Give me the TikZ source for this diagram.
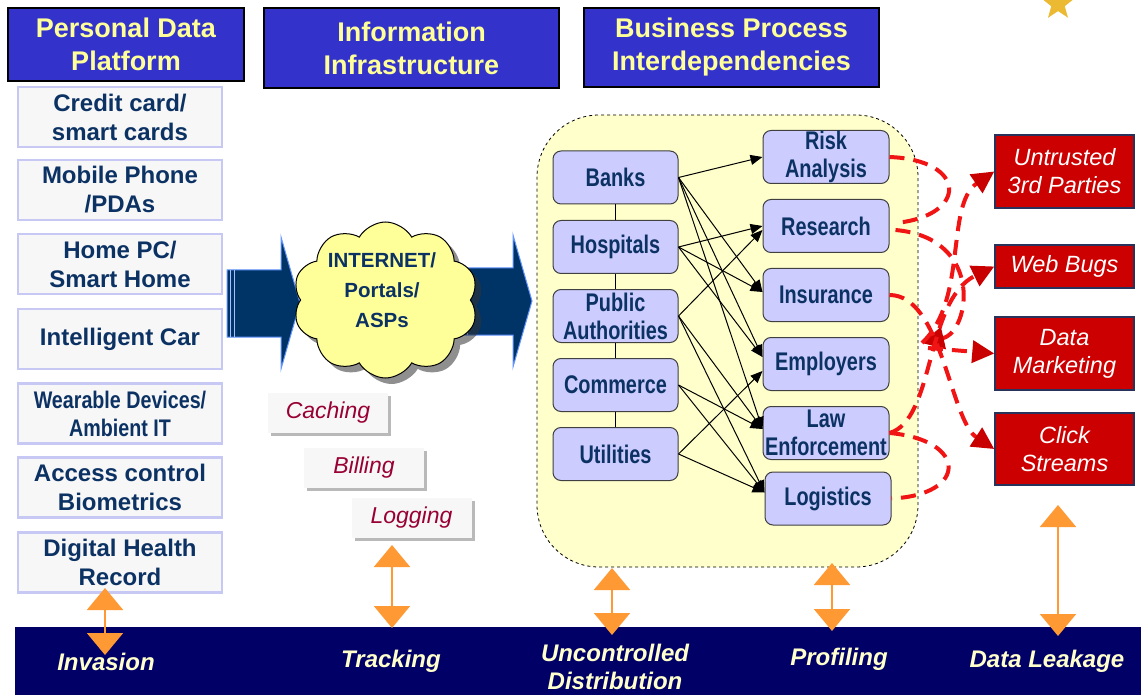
\documentclass[tikz,border=0pt]{standalone}
\usepackage{fontspec}
\setmainfont{Liberation Sans}
\newfontfamily\narrowfont{Liberation Sans}[FakeStretch=0.78]
\newfontfamily\narrowfontb{Liberation Sans}[FakeStretch=0.82]
\usetikzlibrary{shapes.symbols,shapes.geometric,arrows.meta,shadows,calc}

\definecolor{hdrblue}{RGB}{51,51,204}
\definecolor{hdrtext}{RGB}{255,255,153}
\definecolor{navytext}{RGB}{12,50,100}
\definecolor{boxgrey}{RGB}{247,247,247}
\definecolor{boxedge}{RGB}{200,200,245}
\definecolor{arrnavy}{RGB}{0,51,102}
\definecolor{arredge}{RGB}{100,150,255}
\definecolor{cloudyel}{RGB}{255,255,153}
\definecolor{contyel}{RGB}{255,255,204}
\definecolor{nodeblue}{RGB}{204,204,255}
\definecolor{redbox}{RGB}{204,0,0}
\definecolor{rededge}{RGB}{40,50,90}
\definecolor{redline}{RGB}{240,20,20}
\definecolor{darkred}{RGB}{200,0,0}
\definecolor{orangearr}{RGB}{255,153,51}
\definecolor{barnavy}{RGB}{0,0,102}
\definecolor{bartext}{RGB}{255,255,204}
\definecolor{wine}{RGB}{153,0,51}
\definecolor{starcol}{RGB}{235,185,50}
\definecolor{shadowgrey}{RGB}{185,185,185}

\begin{document}
\begin{tikzpicture}[x=1pt,y=-1pt,
  hdr/.style={fill=hdrblue, draw=black, line width=1.2pt, text=hdrtext,
    font=\fontsize{27}{33}\selectfont\bfseries, align=center, inner sep=0pt},
  devbox/.style={fill=boxgrey, draw=boxedge, line width=2.5pt, text=navytext,
    font=\fontsize{24}{29}\selectfont\bfseries, align=center,
    minimum width=204pt, minimum height=60pt, inner sep=0pt},
  proc/.style={fill=nodeblue, draw=black!75, line width=1pt, rounded corners=8pt,
    text=navytext, font=\narrowfont\bfseries\fontsize{25.5}{28}\selectfont,
    align=center, minimum width=125pt, minimum height=53pt, inner sep=0pt},
  threat/.style={fill=redbox, draw=rededge, line width=1.5pt, text=white,
    font=\fontsize{23.5}{28}\selectfont\itshape, align=center,
    minimum width=139pt, inner sep=0pt},
  trk/.style={fill=boxgrey, text=wine, font=\fontsize{23}{28}\selectfont\itshape,
    minimum width=120pt, minimum height=40pt, inner sep=0pt},
  trkshadow/.style={fill=shadowgrey},
  risklbl/.style={text=bartext, font=\fontsize{24}{28}\selectfont\bfseries\itshape,
    align=center, inner sep=0pt},
  flow/.style={draw=black, line width=1pt, -{Triangle[length=12pt,width=10pt]}},
  reddash/.style={draw=redline, line width=4pt, dash pattern=on 15pt off 9pt},
  redtip/.style={-{Triangle[length=22pt,width=22pt,color=darkred]}},
  dbl/.style={draw=orangearr, line width=2pt,
    {Triangle[length=22pt,width=36pt]}-{Triangle[length=22pt,width=36pt]}},
  bigarrow/.style={fill=arrnavy, draw=arredge, line width=1pt}
]
\useasboundingbox (0,0) rectangle (1141,695);
\fill[white] (0,0) rectangle (1141,695);

% decorative star (top right)
\node[star, star points=5, star point ratio=2.4, fill=starcol, minimum size=34pt, inner sep=0pt] (star) at (1058,4) {};

% headers
\node[hdr, minimum width=236pt, minimum height=73pt] (h1) at (126,44.5) {Personal Data\\Platform};
\node[hdr, minimum width=295pt, minimum height=80pt] (h2) at (411.5,48) {Information\\Infrastructure};
\node[hdr, minimum width=295pt, minimum height=79pt] (h3) at (731.5,47.5) {Business Process\\Interdependencies};

% personal devices
\node[devbox] (credit) at (120,117) {Credit card/\\smart cards};
\node[devbox] (mobile) at (120,190) {Mobile Phone\\/PDAs};
\node[devbox] (home) at (120,264) {Home PC/\\Smart Home};
\node[devbox] (car) at (120,339) {Intelligent Car};
\node[devbox, font=\narrowfontb\bfseries\fontsize{24}{28}\selectfont] (wear) at (120,413.5) {Wearable Devices/\\Ambient IT};
\node[devbox] (access) at (120,487.5) {Access control\\Biometrics};
\node[devbox] (health) at (120,562.5) {Digital Health\\Record};

% big arrows
\draw[bigarrow] (227,270) -- (281,270) -- (281,237) -- (300,303) -- (281,369) -- (281,337) -- (227,337) -- cycle;
\draw[arredge!60!white, line width=1pt] (230.5,270) -- (230.5,337) (234,270) -- (234,337);
\draw[bigarrow] (460,268) -- (513,268) -- (513,235) -- (532,301) -- (513,367) -- (513,335) -- (460,335) -- cycle;
\draw[arredge!60!white, line width=1pt] (463.5,268) -- (463.5,335) (467,268) -- (467,335);

% cloud
\node[cloud, cloud puffs=10, cloud puff arc=120, aspect=1.2, minimum width=185pt, minimum height=156pt,
  inner sep=0pt, fill=cloudyel, draw=black, line width=1pt,
  drop shadow={shadow xshift=6pt, shadow yshift=-6pt, fill=black!80, opacity=0.55}] (net) at (385.5,300) {};
\node[text=navytext, font=\fontsize{20.5}{30}\selectfont\bfseries, align=center] (nettext) at (382,290) {INTERNET/\\Portals/\\ASPs};

% tracking boxes
\fill[trkshadow] (271,396) rectangle (391,436);
\node[trk] (caching) at (328,413) {Caching};
\fill[trkshadow] (307,451) rectangle (427,491);
\node[trk] (billing) at (364,468) {Billing};
\fill[trkshadow] (355,501) rectangle (475,541);
\node[trk] (logging) at (411.5,518) {Logging};

% container
\node[draw=black, dashed, line width=0.8pt, fill=contyel, rounded corners=62pt,
  minimum width=381pt, minimum height=452pt] (cont) at (727.5,341) {};

% process nodes
\node[proc] (banks) at (615.5,177.5) {Banks};
\node[proc] (hosp) at (615.5,247) {Hospitals};
\node[proc] (pub) at (615.5,316) {Public\\Authorities};
\node[proc] (comm) at (615.5,385) {Commerce};
\node[proc] (util) at (615.5,454) {Utilities};
\draw[black, line width=1pt] (banks.south) -- (hosp.north) (hosp.south) -- (pub.north)
  (pub.south) -- (comm.north) (comm.south) -- (util.north);

\node[proc, minimum width=126pt] (risk) at (826,157) {Risk\\Analysis};
\node[proc, minimum width=126pt] (res) at (826,226) {Research};
\node[proc, minimum width=126pt] (ins) at (826,295) {Insurance};
\node[proc, minimum width=126pt] (emp) at (826,364) {Employers};
\node[proc, minimum width=126pt] (law) at (826,433) {Law\\Enforcement};
\node[proc, minimum width=126pt] (logi) at (828,498.5) {Logistics};

% flows
\draw[flow] (banks.east) -- (risk.west);
\draw[flow] (banks.east) -- ($(ins.west)+(0,-3)$);
\draw[flow] (banks.east) -- ($(emp.west)+(0,-7)$);
\draw[flow] (banks.east) -- ($(law.west)+(0,-4)$);
\draw[flow] (hosp.east) -- (res.west);
\draw[flow] (hosp.east) -- ($(ins.west)+(0,-3)$);
\draw[flow] (hosp.east) -- ($(emp.west)+(0,-7)$);
\draw[flow] (pub.east) -- ($(res.west)+(0,4)$);
\draw[flow] (pub.east) -- ($(law.west)+(0,-4)$);
\draw[flow] (pub.east) -- ($(logi.west)+(0,-6)$);
\draw[flow] (comm.east) -- ($(law.west)+(0,-4)$);
\draw[flow] (comm.east) -- ($(logi.west)+(0,-6)$);
\draw[flow] (util.east) -- ($(emp.west)+(0,7)$);
\draw[flow] (util.east) -- ($(logi.west)+(0,-6)$);

% threat boxes
\node[threat, minimum height=73pt] (unt) at (1064.5,171.5) {Untrusted\\3rd Parties};
\node[threat, minimum height=43pt] (wb) at (1064.5,266.5) {Web Bugs};
\node[threat, minimum height=73pt] (dm) at (1064.5,353.5) {Data\\Marketing};
\node[threat, minimum height=72pt] (click) at (1064.5,449) {Click\\Streams};

% red dashed flows
\coordinate (hub) at (922,343);
\draw[reddash] (risk.east) .. controls (968,160) and (968,216) .. ($(res.east)+(6,-3)$);
\draw[reddash, redtip] ($(res.east)+(6,4)$) .. controls (985,238) and (970,332) .. (hub);
\draw[reddash, redtip] (hub) .. controls (968,300) and (945,205) .. (unt.west);
\draw[reddash, redtip] ($(hub)+(6,5)$) -- (dm.west);
\draw[reddash, redtip] (ins.east) .. controls (942,295) and (950,420) .. (click.west);
\draw[reddash, redtip] (law.east) .. controls (935,420) and (925,300) .. (wb.west);
\draw[reddash] (law.east) .. controls (968,440) and (968,495) .. (logi.east);

% bottom bar
\node[fill=barnavy, minimum width=1126pt, minimum height=68pt, inner sep=0pt] (bar) at (578,661) {};
\node[risklbl] (inv) at (106,662) {Invasion};
\node[risklbl] (trkl) at (391,661) {Tracking};
\node[risklbl] (unc) at (615,667) {Uncontrolled\\Distribution};
\node[risklbl] (prof) at (839,659) {Profiling};
\node[risklbl] (leak) at (1047,661) {Data Leakage};

% orange double arrows
\coordinate (invA) at (105,588); \coordinate (invB) at (105,655);
\coordinate (trkA) at (392,545); \coordinate (trkB) at (392,628);
\coordinate (uncA) at (612,568); \coordinate (uncB) at (612,635);
\coordinate (profA) at (832,563); \coordinate (profB) at (832,631);
\coordinate (leakA) at (1058,505); \coordinate (leakB) at (1058,636);
\draw[dbl] (invA) -- (invB);
\draw[dbl] (trkA) -- (trkB);
\draw[dbl] (uncA) -- (uncB);
\draw[dbl] (profA) -- (profB);
\draw[dbl] (leakA) -- (leakB);
\end{tikzpicture}
\end{document}
